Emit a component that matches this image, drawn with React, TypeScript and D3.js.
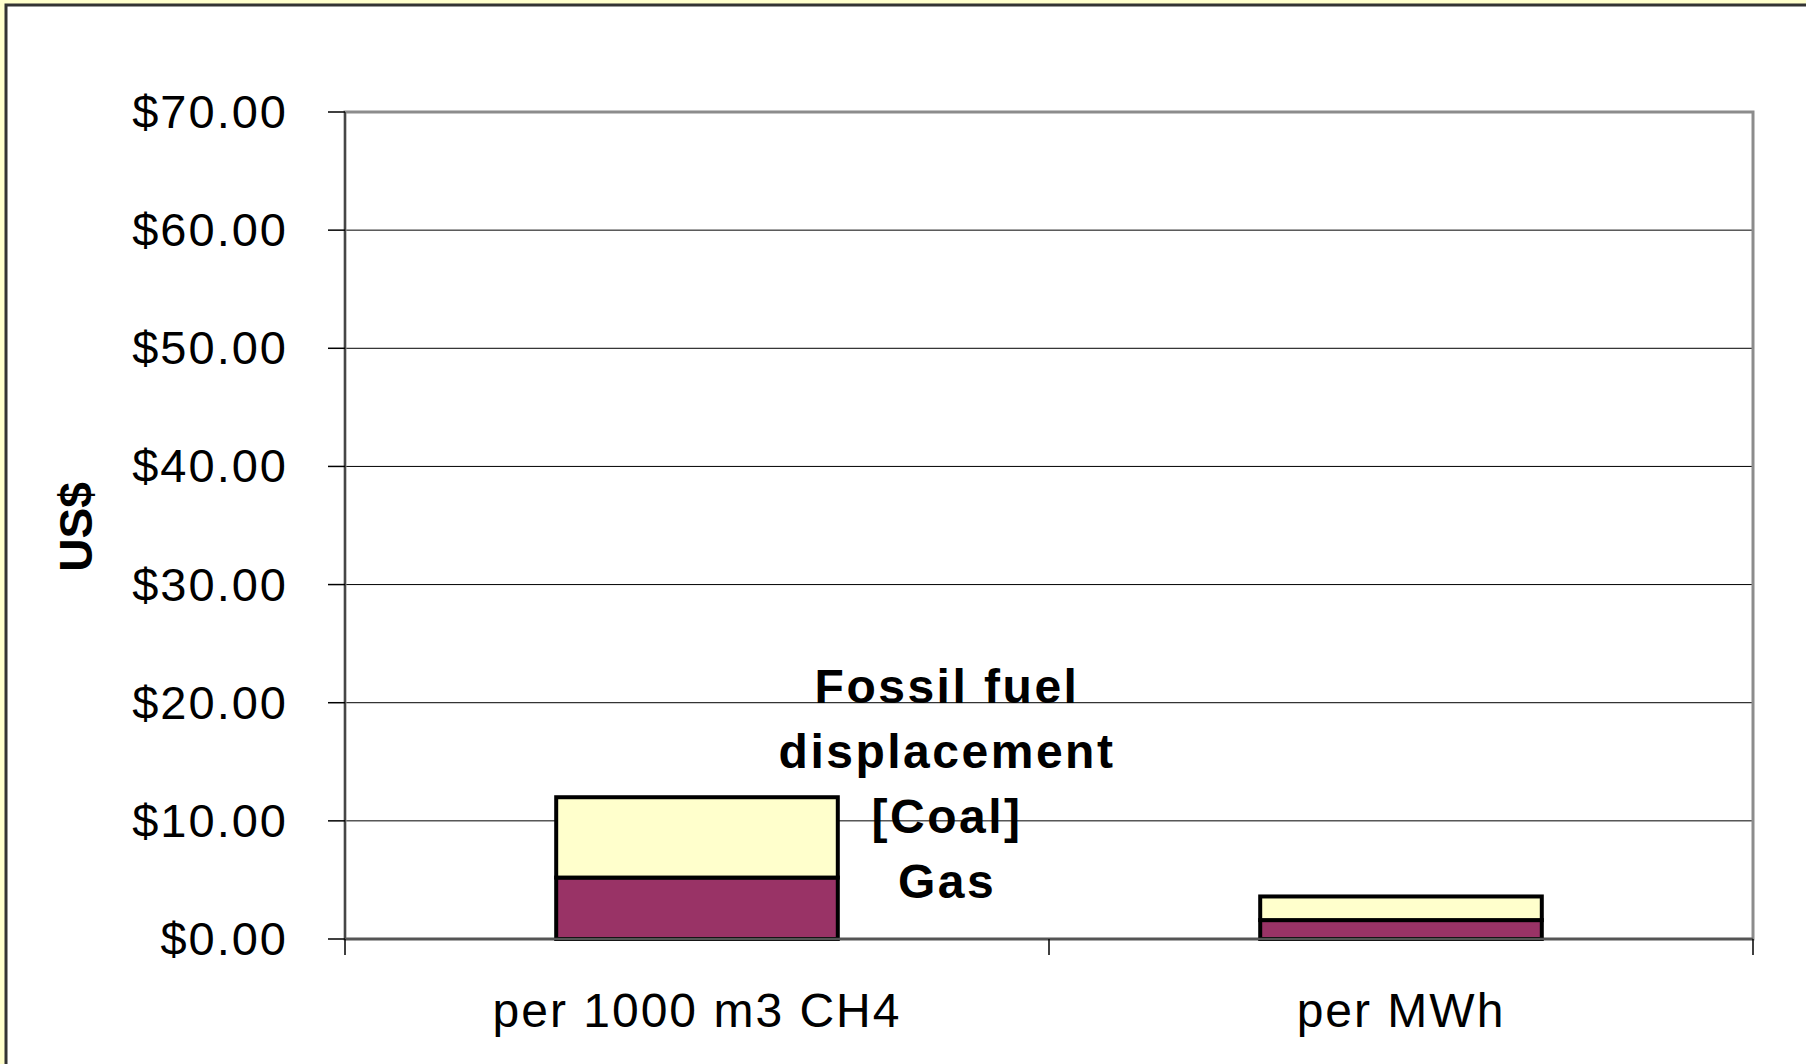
import React from "react";
import * as d3 from "d3";

// Categories and stacked series values (US$)
const categories = ["per 1000 m3 CH4", "per MWh"];
const gasValues = [5.2, 1.6];
const coalValues = [6.8, 2.0];
const yTicks = [0, 10, 20, 30, 40, 50, 60, 70];
const annotationLines = ["Fossil fuel", "displacement", "[Coal]", "Gas"];

const W = 1806;
const H = 1064;
const plot = { left: 345, right: 1753, top: 112, bottom: 939 };

export default function App() {
  const x = d3
    .scaleBand<string>()
    .domain(categories)
    .range([plot.left, plot.right])
    .paddingInner(0)
    .paddingOuter(0);
  const y = d3.scaleLinear().domain([0, 70]).range([plot.bottom, plot.top]);

  const stack = d3
    .stack<{ cat: string; gas: number; coal: number }>()
    .keys(["gas", "coal"]);
  const rows = categories.map((c, i) => ({ cat: c, gas: gasValues[i], coal: coalValues[i] }));
  const series = stack(rows);
  const fills: Record<string, string> = { gas: "#993366", coal: "#FFFFCC" };

  const bw = x.bandwidth() / 2.5; // gap width 150%
  const font = "Arial, 'Liberation Sans', Helvetica, sans-serif";

  const bandEdges = [plot.left, ...categories.map((c) => (x(c) as number) + x.bandwidth())];

  return (
    <svg
      width={W}
      height={H}
      style={{ position: "absolute", left: 0, top: 0, display: "block" }}
    >
      <rect x={0} y={0} width={W} height={H} fill="#FFFFCC" />
      <rect x={6} y={5} width={W + 40} height={H + 40} fill="#FFFFFF" stroke="#333333" strokeWidth={3} />

      {/* gridlines */}
      {yTicks.map((t) => (
        <line key={"g" + t} x1={plot.left} x2={plot.right} y1={y(t)} y2={y(t)} stroke="#000" strokeWidth={1} />
      ))}

      {/* plot area border */}
      <rect
        x={plot.left}
        y={plot.top}
        width={plot.right - plot.left}
        height={plot.bottom - plot.top}
        fill="none"
        stroke="#8c8c8c"
        strokeWidth={3}
      />

      {/* stacked bars */}
      {series.map((s) =>
        s.map((d, i) => {
          const cx = (x(categories[i]) as number) + x.bandwidth() / 2;
          return (
            <rect
              key={s.key + i}
              x={cx - bw / 2}
              y={y(d[1])}
              width={bw}
              height={y(d[0]) - y(d[1])}
              fill={fills[s.key]}
              stroke="#000"
              strokeWidth={4}
            />
          );
        })
      )}

      {/* y axis */}
      <line x1={plot.left} x2={plot.left} y1={plot.top} y2={plot.bottom} stroke="#000" strokeWidth={1} />
      {yTicks.map((t) => (
        <g key={"t" + t}>
          <line x1={plot.left - 17} x2={plot.left} y1={y(t)} y2={y(t)} stroke="#000" strokeWidth={1.5} />
          <text
            x={288}
            y={y(t) + 16}
            textAnchor="end"
            fontFamily={font}
            fontSize={47}
            letterSpacing={2}
            fill="#000"
          >
            {d3.format("$.2f")(t)}
          </text>
        </g>
      ))}

      {/* x axis */}
      <line x1={plot.left} x2={plot.right} y1={plot.bottom} y2={plot.bottom} stroke="#555" strokeWidth={2.5} />
      {bandEdges.map((e, i) => (
        <line key={"xt" + i} x1={e} x2={e} y1={plot.bottom} y2={plot.bottom + 16} stroke="#000" strokeWidth={1.5} />
      ))}
      {categories.map((c) => (
        <text
          key={c}
          x={(x(c) as number) + x.bandwidth() / 2}
          y={1027}
          textAnchor="middle"
          fontFamily={font}
          fontSize={48}
          letterSpacing={2}
          fill="#000"
        >
          {c}
        </text>
      ))}

      {/* y axis title */}
      <text
        transform="translate(92,527) rotate(-90)"
        textAnchor="middle"
        fontFamily={font}
        fontWeight="bold"
        fontSize={46}
        fill="#000"
      >
        US$
      </text>

      {/* annotation */}
      {annotationLines.map((l, i) => (
        <text
          key={l}
          x={947}
          y={703 + i * 65}
          textAnchor="middle"
          fontFamily={font}
          fontWeight="bold"
          fontSize={48}
          letterSpacing={2.5}
          fill="#000"
        >
          {l}
        </text>
      ))}
    </svg>
  );
}
